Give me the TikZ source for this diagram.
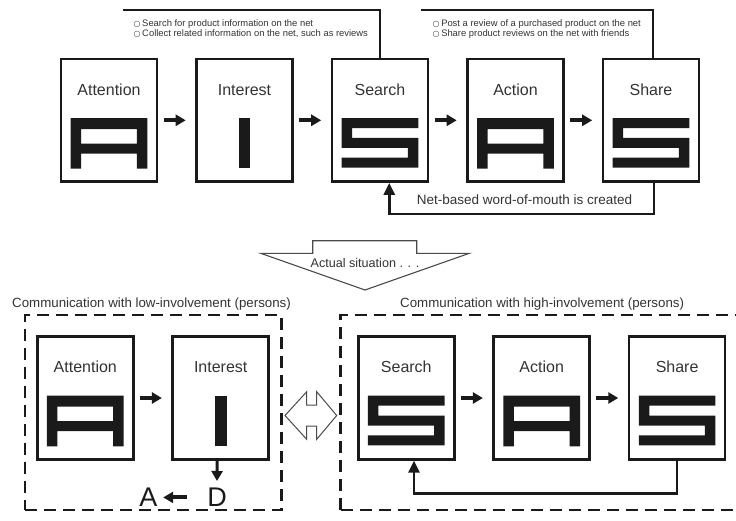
\documentclass[tikz,border=0pt]{standalone}
\usepackage{fontspec}
\setmainfont{Liberation Sans}
\newfontfamily\symfont{DejaVu Sans}
\usetikzlibrary{arrows.meta,calc}
\definecolor{txt}{HTML}{333333}
\definecolor{ln}{HTML}{1A1A1A}
\definecolor{thin}{HTML}{4A4A4A}
\newcommand{\bul}{{\symfont\fontsize{8}{9}\selectfont ○}\,}
\tikzset{
  stage/.style={draw=ln, line width=2.6pt, minimum width=96pt, minimum height=122.6pt, inner sep=0pt},
  lbl/.style={font=\fontsize{16}{19}\selectfont, text=txt, anchor=base, inner sep=0pt},
  note/.style={font=\fontsize{9.4}{11}\selectfont, text=txt, anchor=base west, inner sep=0pt},
  head/.style={font=\fontsize{13.3}{16}\selectfont, text=txt, anchor=base west, inner sep=0pt},
  flow/.style={line width=4pt, draw=ln, -{Triangle[length=10pt,width=11pt]}},
  loopln/.style={line width=2.6pt, draw=ln, -{Triangle[length=12pt,width=11pt]}},
  bracket/.style={line width=2.6pt, draw=ln},
  dashbox/.style={draw=ln, line width=2.6pt, dash pattern=on 12pt off 7pt},
  glyphA/.pic={\fill[ln] (0,0) rectangle (76.7,11) (0,0) rectangle (10.5,50.7)
      (66.2,0) rectangle (76.7,50.7) (0,25.5) rectangle (76.7,35.5);},
  glyphS/.pic={\fill[ln] (0,0) rectangle (76.7,10) (0,19.8) rectangle (76.7,29.8)
      (0,39.6) rectangle (76.7,49.6) (0,0) rectangle (10.5,29.8) (66.2,19.8) rectangle (76.7,49.6);},
  glyphI/.pic={\fill[ln] (32.5,0) rectangle (44.2,50.2);}
}
\begin{document}
\begin{tikzpicture}[x=1pt,y=-1pt]
\useasboundingbox (0,0) rectangle (736,520);
\clip (0,0) rectangle (736,520);

% ---------- upper row ----------
\node[stage] (tA)  at (109,120.3)   {};
\node[stage] (tI)  at (244.5,120.3) {};
\node[stage] (tS)  at (380,120.3)   {};
\node[stage] (tAc) at (515.5,120.3) {};
\node[stage] (tSh) at (651,120.3)   {};

\node[lbl] (tAl)  at ($(tA.north)+(0,37.4)$)  {Attention};
\node[lbl] (tIl)  at ($(tI.north)+(0,37.4)$)  {Interest};
\node[lbl] (tSl)  at ($(tS.north)+(0,37.4)$)  {Search};
\node[lbl] (tAcl) at ($(tAc.north)+(0,37.4)$) {Action};
\node[lbl] (tShl) at ($(tSh.north)+(0,37.4)$) {Share};

\pic at ($(tA.north)+(-38.35,60.3)$)  {glyphA};
\pic at ($(tI.north)+(-38.35,60.3)$)  {glyphI};
\pic at ($(tS.north)+(-38.35,60.3)$)  {glyphS};
\pic at ($(tAc.north)+(-38.35,60.3)$) {glyphA};
\pic at ($(tSh.north)+(-38.35,60.3)$) {glyphS};

\draw[flow] ([xshift=5.5pt]tA.east)  -- ([xshift=-9.5pt]tI.west);
\draw[flow] ([xshift=5.5pt]tI.east)  -- ([xshift=-9.5pt]tS.west);
\draw[flow] ([xshift=5.5pt]tS.east)  -- ([xshift=-9.5pt]tAc.west);
\draw[flow] ([xshift=5.5pt]tAc.east) -- ([xshift=-9.5pt]tSh.west);

% brackets with notes
\coordinate (b1) at (123,10);
\coordinate (b2) at (421,10);
\draw[bracket] (b1) -- (b1 -| tS.north) -- (tS.north);
\draw[bracket] (b2) -- ($(b2 -| tSh.north)+(2,0)$) -- ([xshift=2pt]tSh.north);
\node[note] (n1a) at (133.5,26.1) {\bul Search for product information on the net};
\node[note] (n1b) at (133.5,36.7) {\bul Collect related information on the net, such as reviews};
\node[note] (n2a) at (432.5,26.1) {\bul Post a review of a purchased product on the net};
\node[note] (n2b) at (432.5,36.7) {\bul Share product reviews on the net with friends};

% feedback
\draw[loopln] ([xshift=3pt]tSh.south) -- ++(0,31) -| ([xshift=9.3pt]tS.south);
\node[font=\fontsize{13.5}{16}\selectfont, text=txt, anchor=base west, inner sep=0pt] (wom) at (416.7,204.8) {Net-based word-of-mouth is created};

% ---------- transition arrow ----------
\draw[draw=thin, line width=1.1pt, fill=white] (312.7,240.7) -- (416.7,240.7) -- (416.7,253.3) -- (469.3,253.3)
   -- (365,290) -- (260.7,253.3) -- (312.7,253.3) -- cycle;
\node[font=\fontsize{12.6}{15}\selectfont, text=txt, anchor=base, inner sep=0pt] (act) at (365,267.2) {Actual situation . . .};

% ---------- lower part ----------
\node[head] (hlow)  at (12,307.5)  {Communication with low-involvement (persons)};
\node[head] (hhigh) at (400,307.5) {Communication with high-involvement (persons)};

\node[dashbox, minimum width=256.7pt, minimum height=195pt, inner sep=0pt] (low) at (153.35,412.5) {};
\draw[dashbox] (340.7,510) -- (340.7,315) -- (760,315);
\draw[dashbox] (340.7,510) -- (760,510);

\node[stage] (lA)  at (85.3,398)  {};
\node[stage] (lI)  at (220.7,398) {};
\node[stage] (lS)  at (406.3,398) {};
\node[stage] (lAc) at (541.7,398) {};
\node[stage] (lSh) at (677.1,398) {};

\node[lbl] (lAl)  at ($(lA.north)+(0,37.4)$)  {Attention};
\node[lbl] (lIl)  at ($(lI.north)+(0,37.4)$)  {Interest};
\node[lbl] (lSl)  at ($(lS.north)+(0,37.4)$)  {Search};
\node[lbl] (lAcl) at ($(lAc.north)+(0,37.4)$) {Action};
\node[lbl] (lShl) at ($(lSh.north)+(0,37.4)$) {Share};

\pic at ($(lA.north)+(-38.35,60.3)$)  {glyphA};
\pic at ($(lI.north)+(-38.35,60.3)$)  {glyphI};
\pic at ($(lS.north)+(-38.35,60.3)$)  {glyphS};
\pic at ($(lAc.north)+(-38.35,60.3)$) {glyphA};
\pic at ($(lSh.north)+(-38.35,60.3)$) {glyphS};

\draw[flow] ([xshift=5pt]lA.east)  -- ([xshift=-9.5pt]lI.west);
\draw[flow] ([xshift=5pt]lS.east)  -- ([xshift=-9.5pt]lAc.west);
\draw[flow] ([xshift=5pt]lAc.east) -- ([xshift=-9.5pt]lSh.west);

\draw[loopln] (lSh.south) -- ++(0,33) -| ([xshift=7.7pt]lS.south);

% A <- D
\node[font=\fontsize{27}{30}\selectfont, text=ln, anchor=base, inner sep=0pt] (dD) at (217,506.7) {D};
\node[font=\fontsize{27}{30}\selectfont, text=ln, anchor=base, inner sep=0pt] (dA) at (148.5,506.7) {A};
\coordinate (dtop) at (217,481);
\draw[line width=3pt, draw=ln, -{Triangle[length=10pt,width=11pt]}] ([xshift=-3.5pt]lI.south) -- (dtop);
\draw[flow] ($(dD.west |- dD.center)+(-20,0)$) -- ($(dA.east |- dD.center)+(5.5,0)$);

% double arrow
\draw[draw=thin, line width=1pt, fill=white] (285,415.5) -- (306.7,391.7) -- (306.7,405) -- (316.7,405) -- (316.7,391.7)
   -- (336.7,415.5) -- (316.7,439.3) -- (316.7,426) -- (306.7,426) -- (306.7,439.3) -- cycle;
\end{tikzpicture}
\end{document}
